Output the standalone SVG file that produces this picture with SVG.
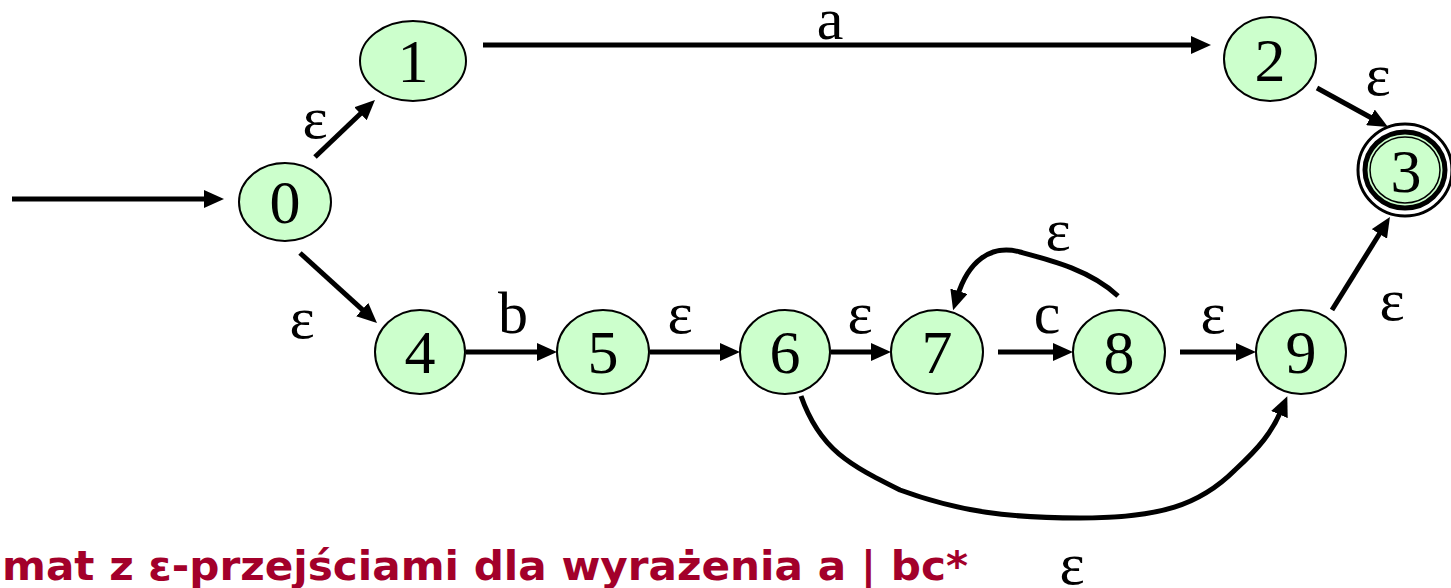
<svg xmlns="http://www.w3.org/2000/svg" width="1451" height="588" viewBox="0 0 1451 588">
  <style>
    .node ellipse { fill: #ccffcc; stroke: #000; stroke-width: 2; }
    .num { font-family: "Liberation Serif", "Times New Roman", serif; font-size: 62px; text-anchor: middle; fill: #000; }
    .lbl { font-family: "Liberation Serif", "Times New Roman", serif; font-size: 60px; text-anchor: middle; fill: #000; }
    .edge { fill: none; stroke: #000; stroke-width: 5; marker-end: url(#arr); }
    .caption { font-family: "DejaVu Sans", "Liberation Sans", sans-serif; font-size: 40px; font-weight: bold; fill: #a3002a; }
  </style>
  <defs>
    <marker id="arr" markerUnits="userSpaceOnUse" markerWidth="20" markerHeight="18" refX="5" refY="9" orient="auto">
      <path d="M0,0 L20,9 L0,18 z" fill="#000"/>
    </marker>
  </defs>
  <rect width="1451" height="588" fill="#fff"/>

  <g id="connectors">
    <line class="edge" x1="12" y1="199" x2="209" y2="199"/>
    <line class="edge" x1="315" y1="157" x2="364.1" y2="110.3"/>
    <line class="edge" x1="300" y1="253" x2="365.9" y2="312.9"/>
    <line class="edge" x1="483" y1="45" x2="1196" y2="45"/>
    <line class="edge" x1="466" y1="352" x2="542" y2="352"/>
    <line class="edge" x1="650" y1="352" x2="725" y2="352"/>
    <line class="edge" x1="831" y1="352" x2="876" y2="352"/>
    <line class="edge" x1="998" y1="352" x2="1058" y2="352"/>
    <line class="edge" x1="1180" y1="352" x2="1241" y2="352"/>
    <line class="edge" x1="1317" y1="88" x2="1374.8" y2="119.8"/>
    <line class="edge" x1="1332" y1="310" x2="1382" y2="229.7"/>
    <path class="edge" d="M1118,296 C1090,270 1050,260 1020,252 C990,244 968,262 957.5,296"/>
    <path class="edge" d="M801,396 C820,450 850,465 900,490 C960,512 1010,518 1080,518 C1160,518 1200,505 1235,470 C1260,447 1272,432 1281.4,410"/>
  </g>

  <g id="labels">
    <text class="lbl" x="315" y="138">ε</text>
    <text class="lbl" x="302" y="338">ε</text>
    <text class="lbl" x="830" y="39">a</text>
    <text class="lbl" x="513" y="333">b</text>
    <text class="lbl" x="680" y="333">ε</text>
    <text class="lbl" x="860" y="333">ε</text>
    <text class="lbl" x="1047" y="333">c</text>
    <text class="lbl" x="1213" y="333">ε</text>
    <text class="lbl" x="1058" y="250">ε</text>
    <text class="lbl" x="1378" y="95">ε</text>
    <text class="lbl" x="1392" y="320">ε</text>
    <text class="lbl" x="1072" y="584">ε</text>
  </g>

  <g id="node0" class="node"><ellipse cx="285" cy="202" rx="46" ry="39"/><text class="num" x="285" y="223">0</text></g>
  <g id="node1" class="node"><ellipse cx="413" cy="61" rx="53" ry="40"/><text class="num" x="413" y="82">1</text></g>
  <g id="node2" class="node"><ellipse cx="1270" cy="59" rx="46" ry="42"/><text class="num" x="1270" y="81">2</text></g>
  <g id="node3" class="node">
    <ellipse cx="1405" cy="170" rx="47" ry="46" style="fill:#fff;stroke-width:3"/>
    <ellipse cx="1405" cy="170" rx="40" ry="38" style="stroke-width:5"/>
    <ellipse cx="1405" cy="170" rx="35" ry="33" style="fill:none;stroke-width:1.5"/>
    <text class="num" x="1406" y="192">3</text>
  </g>
  <g id="node4" class="node"><ellipse cx="420" cy="352" rx="45" ry="42"/><text class="num" x="420" y="373">4</text></g>
  <g id="node5" class="node"><ellipse cx="603" cy="352" rx="46" ry="42"/><text class="num" x="603" y="373">5</text></g>
  <g id="node6" class="node"><ellipse cx="785" cy="352" rx="45" ry="42"/><text class="num" x="785" y="373">6</text></g>
  <g id="node7" class="node"><ellipse cx="937" cy="352" rx="46" ry="42"/><text class="num" x="937" y="373">7</text></g>
  <g id="node8" class="node"><ellipse cx="1119" cy="352" rx="46" ry="42"/><text class="num" x="1119" y="373">8</text></g>
  <g id="node9" class="node"><ellipse cx="1301" cy="352" rx="45" ry="42"/><text class="num" x="1301" y="373">9</text></g>

  <text class="caption" x="2" y="580" textLength="966" lengthAdjust="spacingAndGlyphs">mat z ε-przejściami dla wyrażenia a | bc*</text>
</svg>
